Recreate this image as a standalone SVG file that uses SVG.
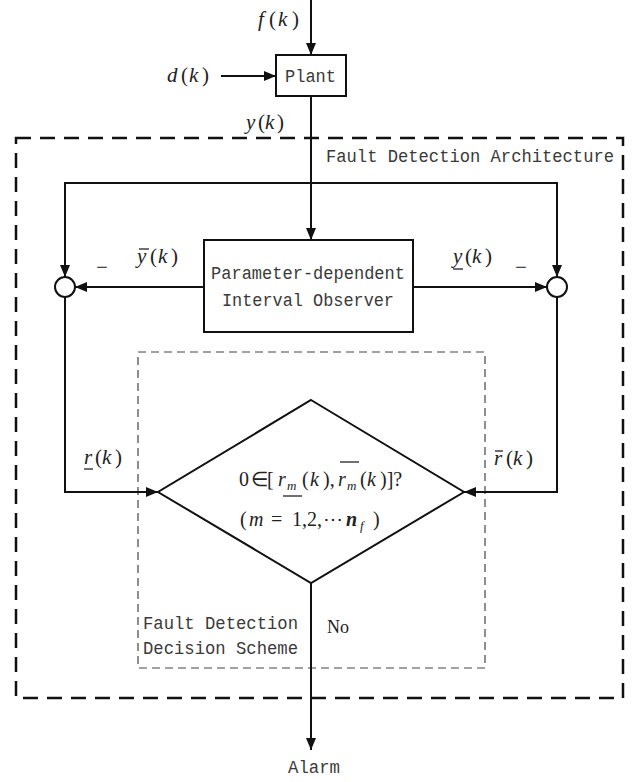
<svg xmlns="http://www.w3.org/2000/svg" width="633" height="782" viewBox="0 0 633 782">
<defs>
<marker id="ah" viewBox="0 0 12 10" refX="12" refY="5" markerWidth="12" markerHeight="10" markerUnits="userSpaceOnUse" orient="auto">
<path d="M0,0 L12,5 L0,10 Z" fill="#111"/>
</marker>
<style>
.ln{fill:none;stroke:#111;stroke-width:2}
.ar{fill:none;stroke:#111;stroke-width:2;marker-end:url(#ah)}
.box{fill:#fff;stroke:#111;stroke-width:2}
.mono{font-family:"Liberation Mono","Courier New",monospace;font-size:19px;fill:#3a3a3a}
.m{font-family:"Liberation Serif","Times New Roman",serif;font-size:21px;fill:#222}
.f{font-family:"Liberation Serif","Times New Roman",serif;font-size:20px;fill:#222}
.i{font-style:italic}
.sub{font-size:13px}
.bar{stroke:#222;stroke-width:1.3}
.outer{fill:none;stroke:#111;stroke-width:2.5;stroke-dasharray:15 9}
.inner{fill:none;stroke:#444;stroke-width:1.2;stroke-dasharray:8 5}
</style>
</defs>
<rect width="633" height="782" fill="#fff"/>

<g id="frames">
<rect id="fd-architecture" class="outer" x="16" y="138" width="607" height="560"/>
<text class="mono" x="326" y="162" textLength="288" lengthAdjust="spacingAndGlyphs">Fault Detection Architecture</text>
<rect id="fd-decision" class="inner" x="138" y="352" width="347" height="316"/>
<text class="mono" x="143" y="629" textLength="155" lengthAdjust="spacingAndGlyphs">Fault Detection</text>
<text class="mono" x="143" y="654" textLength="155" lengthAdjust="spacingAndGlyphs">Decision Scheme</text>
</g>

<g id="connectors">
<line class="ar" x1="311" y1="0" x2="311" y2="55"/>
<line class="ar" x1="221" y1="76" x2="276" y2="76"/>
<line class="ar" x1="311" y1="96" x2="311" y2="240"/>
<polyline class="ar" points="311,183 65,183 65,277"/>
<polyline class="ar" points="311,183 557,183 557,277"/>
<line class="ar" x1="204" y1="287" x2="75" y2="287"/>
<line class="ar" x1="413" y1="287" x2="547" y2="287"/>
<polyline class="ar" points="65,297 65,492 158,492"/>
<polyline class="ar" points="557,297 557,492 464,492"/>
<line class="ar" x1="311" y1="583" x2="311" y2="750"/>
</g>

<g id="plant">
<rect class="box" x="276" y="55" width="70" height="41"/>
<text class="mono" x="285" y="82" textLength="51" lengthAdjust="spacingAndGlyphs">Plant</text>
</g>

<g id="observer">
<rect class="box" x="204" y="240" width="209" height="92"/>
<text class="mono" x="211" y="279" textLength="194" lengthAdjust="spacingAndGlyphs">Parameter-dependent</text>
<text class="mono" x="222" y="306" textLength="172" lengthAdjust="spacingAndGlyphs">Interval Observer</text>
</g>

<g id="sum-left">
<circle class="box" cx="65" cy="287" r="10"/>
</g>
<g id="sum-right">
<circle class="box" cx="557" cy="287" r="10"/>
</g>

<g id="decision">
<polygon class="box" points="311,400 464,492 311,583 158,492"/>
<text class="f" y="486"><tspan x="239">0</tspan><tspan x="251">∈</tspan><tspan x="267">[</tspan><tspan x="278" class="i">r</tspan><tspan x="287" dy="4" class="i sub">m</tspan><tspan x="302" dy="-4">(</tspan><tspan x="310" class="i">k</tspan><tspan x="323">),</tspan><tspan x="338" class="i">r</tspan><tspan x="347" dy="4" class="i sub">m</tspan><tspan x="360" dy="-4">(</tspan><tspan x="367" class="i">k</tspan><tspan x="380">)]?</tspan></text>
<line class="bar" x1="283" y1="496" x2="302" y2="496"/>
<line class="bar" x1="340" y1="462" x2="359" y2="462"/>
<text class="f" y="526"><tspan x="240">(</tspan><tspan x="249" class="i">m</tspan><tspan x="271">=</tspan><tspan x="292">1,</tspan><tspan x="307">2,</tspan><tspan x="323">⋯</tspan><tspan x="346" class="i" font-weight="bold">n</tspan><tspan x="360" dy="4" class="i sub">f</tspan><tspan x="373" dy="-4">)</tspan></text>
</g>

<g id="labels">
<text class="m" y="26"><tspan x="258" class="i">f</tspan><tspan x="269">(</tspan><tspan x="278" class="i">k</tspan><tspan x="292">)</tspan></text>
<text class="m" y="82"><tspan x="167" class="i">d</tspan><tspan x="181">(</tspan><tspan x="189" class="i">k</tspan><tspan x="202">)</tspan></text>
<text class="m" y="129"><tspan x="246" class="i">y</tspan><tspan x="258">(</tspan><tspan x="265" class="i">k</tspan><tspan x="277">)</tspan></text>
<text class="m" y="263"><tspan x="137" class="i">y</tspan><tspan x="150">(</tspan><tspan x="158" class="i">k</tspan><tspan x="171">)</tspan></text>
<line class="bar" x1="139" y1="249" x2="149" y2="249"/>
<text class="m" y="263"><tspan x="453" class="i">y</tspan><tspan x="465">(</tspan><tspan x="472" class="i">k</tspan><tspan x="485">)</tspan></text>
<line class="bar" x1="453" y1="269" x2="463" y2="269"/>
<text class="m" x="96" y="274">−</text>
<text class="m" x="515" y="274">−</text>
<text class="m" y="464"><tspan x="84" class="i">r</tspan><tspan x="95">(</tspan><tspan x="102" class="i">k</tspan><tspan x="115">)</tspan></text>
<line class="bar" x1="84" y1="469" x2="93" y2="469"/>
<text class="m" y="465"><tspan x="494" class="i">r</tspan><tspan x="506">(</tspan><tspan x="513" class="i">k</tspan><tspan x="526">)</tspan></text>
<line class="bar" x1="495" y1="451" x2="503" y2="451"/>
<text class="f" x="327" y="633" style="font-size:18px">No</text>
<text class="mono" x="288" y="773" textLength="52" lengthAdjust="spacingAndGlyphs">Alarm</text>
</g>
</svg>
